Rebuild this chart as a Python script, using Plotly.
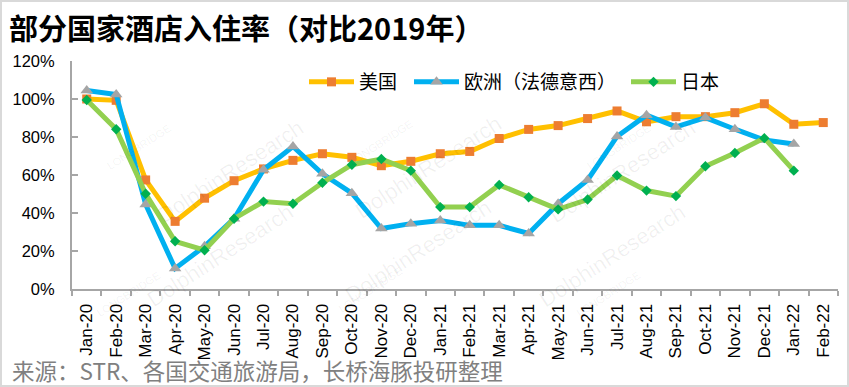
import plotly.graph_objects as go

months = ["Jan-20", "Feb-20", "Mar-20", "Apr-20", "May-20", "Jun-20", "Jul-20", "Aug-20",
          "Sep-20", "Oct-20", "Nov-20", "Dec-20", "Jan-21", "Feb-21", "Mar-21", "Apr-21",
          "May-21", "Jun-21", "Jul-21", "Aug-21", "Sep-21", "Oct-21", "Nov-21", "Dec-21",
          "Jan-22", "Feb-22"]

us = [1.000, 0.993, 0.574, 0.356, 0.478, 0.570, 0.632, 0.677, 0.712, 0.693, 0.649, 0.672,
      0.712, 0.724, 0.792, 0.840, 0.860, 0.897, 0.937, 0.880, 0.907, 0.907, 0.928, 0.975,
      0.867, 0.876]

europe = [1.045, 1.024, 0.445, 0.108, 0.225, 0.370, 0.628, 0.750, 0.606, 0.504, 0.318, 0.344,
          0.361, 0.335, 0.335, 0.292, 0.449, 0.574, 0.803, 0.915, 0.853, 0.902, 0.841, 0.784,
          0.763, None]

japan = [0.995, 0.841, 0.501, 0.251, 0.204, 0.370, 0.460, 0.449, 0.559, 0.654, 0.684, 0.623,
         0.431, 0.431, 0.548, 0.483, 0.419, 0.471, 0.597, 0.518, 0.489, 0.646, 0.716, 0.794,
         0.623, None]

names = ["美国", "欧洲（法德意西）", "日本"]

W, H = 849, 387
ML, MR, MT, MB = 72, 11, 61, 98
PW, PH = W - ML - MR, H - MT - MB


def px(x):
    return (x - ML) / PW


def py(y):
    return (H - MB - y) / PH


CJK = "Noto Sans CJK SC"
LAT = "Liberation Sans, Arial"

fig = go.Figure()
fig.add_trace(go.Scatter(
    x=months, y=us, name=names[0], mode="lines+markers", legend="legend",
    line=dict(color="#FFC000", width=5),
    marker=dict(symbol="square", size=9, color="#ED7D31"),
))
fig.add_trace(go.Scatter(
    x=months, y=europe, name=names[1], mode="lines+markers", legend="legend2",
    line=dict(color="#00B0F0", width=5),
    marker=dict(symbol="triangle-up", size=11, color="#A5A5A5"),
))
fig.add_trace(go.Scatter(
    x=months, y=japan, name=names[2], mode="lines+markers", legend="legend3",
    line=dict(color="#92D050", width=5),
    marker=dict(symbol="diamond", size=8, color="#00B050"),
))

annotations = [
    dict(text="来源：STR、各国交通旅游局，长桥海豚投研整理", xref="paper", yref="paper",
         x=px(10), y=py(370), xanchor="left", yanchor="middle", showarrow=False,
         font=dict(family=CJK, size=22.5, color="#808080")),
]

# faint watermarks
for cx, cy in [(150, 112), (428, 108), (703, 112), (140, 315), (418, 311), (693, 315)]:
    annotations.append(dict(text="DolphinResearch", xref="paper", yref="paper",
                            x=px(cx), y=py(cy), showarrow=False, textangle=-33,
                            font=dict(family=LAT, size=22, color="rgba(0,0,0,0.06)")))
    annotations.append(dict(text="LONGBRIDGE", xref="paper", yref="paper",
                            x=px(cx - 48), y=py(cy + 7), showarrow=False, textangle=-33,
                            font=dict(family=LAT, size=11, color="rgba(0,0,0,0.06)")))


def legend_at(xpix):
    return dict(orientation="h", x=px(xpix), y=py(82), xanchor="left", yanchor="middle",
                font=dict(family=CJK, size=19, color="black"), bgcolor="rgba(0,0,0,0)",
                itemwidth=45)


fig.update_layout(
    width=W, height=H,
    margin=dict(l=ML, r=MR, t=MT, b=MB, autoexpand=False),
    paper_bgcolor="white", plot_bgcolor="white",
    title=dict(text="<b>部分国家酒店入住率（对比2019年）</b>", x=9 / W, xanchor="left",
               xref="container", y=1 - 30 / H, yanchor="middle", yref="container",
               font=dict(family=CJK, size=29, color="black")),
    showlegend=True,
    legend=legend_at(304),
    legend2=legend_at(409),
    legend3=legend_at(626),
    xaxis=dict(type="category", categoryorder="array", categoryarray=months,
               range=[-0.5, len(months) - 0.5],
               tickangle=-90, tickson="boundaries", ticks="outside", ticklen=5,
               tickcolor="#A6A6A6", tickwidth=1.5, showline=True, linecolor="#A6A6A6",
               linewidth=2, showgrid=False, zeroline=False, automargin=False,
               ticklabelstandoff=6,
               tickfont=dict(family=LAT, size=17, color="black")),
    yaxis=dict(range=[0, 1.2], dtick=0.2, tickformat=".0%", ticks="inside", ticklen=6,
               tickcolor="#A6A6A6", tickwidth=1.5, showline=True, linecolor="#A6A6A6",
               linewidth=2, showgrid=False, zeroline=False, ticklabelstandoff=12,
               automargin=False,
               tickfont=dict(family=LAT, size=16.5, color="black")),
    annotations=annotations,
    shapes=[dict(type="rect", xref="paper", yref="paper", x0=px(1), x1=px(W - 1),
                 y0=py(H - 1), y1=py(1), line=dict(color="#D9D9D9", width=2),
                 fillcolor="rgba(0,0,0,0)", layer="above")],
)

fig.write_html("out.html", config={"displayModeBar": False},
               post_script="document.body.style.margin='0';")
